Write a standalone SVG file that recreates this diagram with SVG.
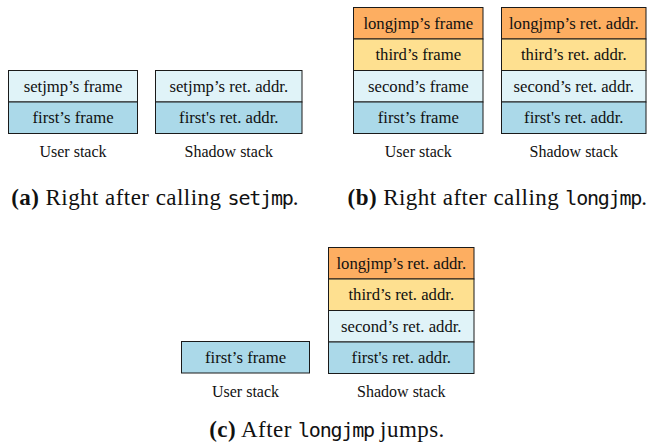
<svg xmlns="http://www.w3.org/2000/svg" width="647" height="448" viewBox="0 0 647 448">
<style>
  .cell { stroke: #1a1a1a; stroke-width: 1; }
  .c1 { fill: #ABD9E9; }
  .c2 { fill: #E0F3F8; }
  .c3 { fill: #FEE090; }
  .c4 { fill: #FDAE61; }
  .t { font-family: "Liberation Serif", "Times New Roman", serif; font-size: 16.7px; fill: #111; text-anchor: middle; }
  .lbl { font-family: "Liberation Serif", "Times New Roman", serif; font-size: 16px; fill: #111; text-anchor: middle; }
  .cap { font-family: "Liberation Serif", "Times New Roman", serif; font-size: 23px; letter-spacing: 0.45px; fill: #111; text-anchor: middle; }
  .mono { font-family: "DejaVu Sans Mono", "Liberation Mono", monospace; font-size: 20px; letter-spacing: -1.2px; }
  .b { font-weight: bold; }
</style>
<rect x="0" y="0" width="647" height="448" fill="#fff"/>

<!-- Panel (a) -->
<g id="a-user-setjmp"><rect class="cell c2" x="8.5" y="70.5" width="129" height="31.5"/><text class="t" x="73" y="91.8">setjmp’s frame</text></g>
<g id="a-user-first"><rect class="cell c1" x="8.5" y="102" width="129" height="31.5"/><text class="t" x="73" y="123.3">first’s frame</text></g>
<g id="a-shadow-setjmp"><rect class="cell c2" x="155.5" y="70.5" width="146.5" height="31.5"/><text class="t" x="228.8" y="91.8">setjmp’s ret. addr.</text></g>
<g id="a-shadow-first"><rect class="cell c1" x="155.5" y="102" width="146.5" height="31.5"/><text class="t" x="228.8" y="123.3">first's ret. addr.</text></g>
<text class="lbl" x="73" y="157">User stack</text>
<text class="lbl" x="228.8" y="157">Shadow stack</text>
<text class="cap" x="155" y="204.5"><tspan class="b">(a)</tspan> Right after calling <tspan class="mono">setjmp</tspan>.</text>

<!-- Panel (b) -->
<g id="b-user-longjmp"><rect class="cell c4" x="353.5" y="7.5" width="129.5" height="31.5"/><text class="t" x="418.3" y="28.8">longjmp’s frame</text></g>
<g id="b-user-third"><rect class="cell c3" x="353.5" y="39" width="129.5" height="31.5"/><text class="t" x="418.3" y="60.3">third’s frame</text></g>
<g id="b-user-second"><rect class="cell c2" x="353.5" y="70.5" width="129.5" height="31.5"/><text class="t" x="418.3" y="91.8">second’s frame</text></g>
<g id="b-user-first"><rect class="cell c1" x="353.5" y="102" width="129.5" height="31.5"/><text class="t" x="418.3" y="123.3">first’s frame</text></g>
<g id="b-shadow-longjmp"><rect class="cell c4" x="501.5" y="7.5" width="144.5" height="31.5"/><text class="t" x="573.8" y="28.8">longjmp’s ret. addr.</text></g>
<g id="b-shadow-third"><rect class="cell c3" x="501.5" y="39" width="144.5" height="31.5"/><text class="t" x="573.8" y="60.3">third’s ret. addr.</text></g>
<g id="b-shadow-second"><rect class="cell c2" x="501.5" y="70.5" width="144.5" height="31.5"/><text class="t" x="573.8" y="91.8">second’s ret. addr.</text></g>
<g id="b-shadow-first"><rect class="cell c1" x="501.5" y="102" width="144.5" height="31.5"/><text class="t" x="573.8" y="123.3">first's ret. addr.</text></g>
<text class="lbl" x="418.3" y="157">User stack</text>
<text class="lbl" x="573.8" y="157">Shadow stack</text>
<text class="cap" x="497.5" y="204.5"><tspan class="b">(b)</tspan> Right after calling <tspan class="mono">longjmp</tspan>.</text>

<!-- Panel (c) -->
<g id="c-user-first"><rect class="cell c1" x="181.5" y="341.5" width="128" height="31.5"/><text class="t" x="245.5" y="362.8">first’s frame</text></g>
<g id="c-shadow-longjmp"><rect class="cell c4" x="328.5" y="247.5" width="145.5" height="31.5"/><text class="t" x="401.3" y="268.8">longjmp’s ret. addr.</text></g>
<g id="c-shadow-third"><rect class="cell c3" x="328.5" y="279" width="145.5" height="31.5"/><text class="t" x="401.3" y="300.3">third’s ret. addr.</text></g>
<g id="c-shadow-second"><rect class="cell c2" x="328.5" y="310.5" width="145.5" height="31.5"/><text class="t" x="401.3" y="331.8">second’s ret. addr.</text></g>
<g id="c-shadow-first"><rect class="cell c1" x="328.5" y="342" width="145.5" height="31.5"/><text class="t" x="401.3" y="363.3">first's ret. addr.</text></g>
<text class="lbl" x="245.5" y="397">User stack</text>
<text class="lbl" x="401.3" y="397">Shadow stack</text>
<text class="cap" x="327" y="437"><tspan class="b">(c)</tspan> After <tspan class="mono">longjmp</tspan> jumps.</text>
</svg>
